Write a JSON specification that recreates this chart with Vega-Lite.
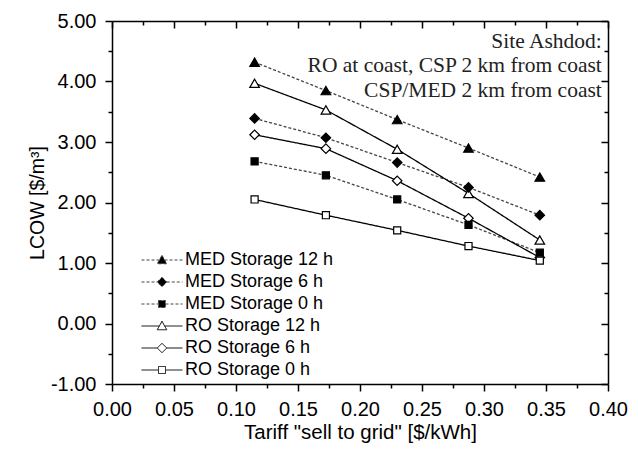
{
  "$schema": "https://vega.github.io/schema/vega-lite/v6.json",
  "width": 496,
  "height": 363,
  "autosize": "none",
  "padding": {"left": 112, "top": 21, "right": 30, "bottom": 71},
  "background": "white",
  "config": {
    "view": {"stroke": null},
    "font": "Liberation Sans",
    "axis": {
      "domainColor": "black",
      "domainWidth": 1.5,
      "tickColor": "black",
      "tickWidth": 1.5,
      "grid": false,
      "labelFont": "Liberation Sans",
      "labelFontSize": 20,
      "labelColor": "black",
      "titleFont": "Liberation Sans",
      "titleFontSize": 20.5,
      "titleFontWeight": "normal",
      "titleColor": "black"
    }
  },
  "datasets": {
    "series": [
      {"series": "MED Storage 12 h", "tariff": 0.115, "lcow": 4.32},
      {"series": "MED Storage 12 h", "tariff": 0.1725, "lcow": 3.85},
      {"series": "MED Storage 12 h", "tariff": 0.23, "lcow": 3.37},
      {"series": "MED Storage 12 h", "tariff": 0.2875, "lcow": 2.9},
      {"series": "MED Storage 12 h", "tariff": 0.345, "lcow": 2.42},
      {"series": "MED Storage 6 h", "tariff": 0.115, "lcow": 3.39},
      {"series": "MED Storage 6 h", "tariff": 0.1725, "lcow": 3.07},
      {"series": "MED Storage 6 h", "tariff": 0.23, "lcow": 2.66},
      {"series": "MED Storage 6 h", "tariff": 0.2875, "lcow": 2.25},
      {"series": "MED Storage 6 h", "tariff": 0.345, "lcow": 1.79},
      {"series": "MED Storage 0 h", "tariff": 0.115, "lcow": 2.68},
      {"series": "MED Storage 0 h", "tariff": 0.1725, "lcow": 2.45},
      {"series": "MED Storage 0 h", "tariff": 0.23, "lcow": 2.05},
      {"series": "MED Storage 0 h", "tariff": 0.2875, "lcow": 1.63},
      {"series": "MED Storage 0 h", "tariff": 0.345, "lcow": 1.17},
      {"series": "RO Storage 12 h", "tariff": 0.115, "lcow": 3.97},
      {"series": "RO Storage 12 h", "tariff": 0.1725, "lcow": 3.53},
      {"series": "RO Storage 12 h", "tariff": 0.23, "lcow": 2.88},
      {"series": "RO Storage 12 h", "tariff": 0.2875, "lcow": 2.15},
      {"series": "RO Storage 12 h", "tariff": 0.345, "lcow": 1.38},
      {"series": "RO Storage 6 h", "tariff": 0.115, "lcow": 3.12},
      {"series": "RO Storage 6 h", "tariff": 0.1725, "lcow": 2.89},
      {"series": "RO Storage 6 h", "tariff": 0.23, "lcow": 2.36},
      {"series": "RO Storage 6 h", "tariff": 0.2875, "lcow": 1.74},
      {"series": "RO Storage 6 h", "tariff": 0.345, "lcow": 1.09},
      {"series": "RO Storage 0 h", "tariff": 0.115, "lcow": 2.05},
      {"series": "RO Storage 0 h", "tariff": 0.1725, "lcow": 1.79},
      {"series": "RO Storage 0 h", "tariff": 0.23, "lcow": 1.54},
      {"series": "RO Storage 0 h", "tariff": 0.2875, "lcow": 1.28},
      {"series": "RO Storage 0 h", "tariff": 0.345, "lcow": 1.04}
    ],
    "notes": [
      {"tariff": 0.395, "lcow": 4.554, "note": "Site Ashdod:"},
      {"tariff": 0.395, "lcow": 4.162, "note": "RO at coast, CSP 2 km from coast"},
      {"tariff": 0.395, "lcow": 3.749, "note": "CSP/MED 2 km from coast"}
    ]
  },
  "resolve": {"axis": {"x": "independent", "y": "independent"}},
  "layer": [
    {
      "data": {"name": "series"},
      "mark": {"type": "line", "strokeWidth": 1.3},
      "encoding": {
        "x": {
          "field": "tariff", "type": "quantitative",
          "scale": {"domain": [0, 0.4], "nice": false, "zero": false},
          "axis": {
            "orient": "bottom",
            "title": "Tariff \"sell to grid\" [$/kWh]",
            "values": [0, 0.025, 0.05, 0.075, 0.1, 0.125, 0.15, 0.175, 0.2, 0.225, 0.25, 0.275, 0.3, 0.325, 0.35, 0.375, 0.4],
            "labelExpr": "abs(datum.value*20 - round(datum.value*20)) < 1e-6 ? format(datum.value, '.2f') : ''",
            "tickSize": {"condition": {"test": "abs(datum.value*20 - round(datum.value*20)) < 1e-6", "value": 7}, "value": 4},
            "labelPadding": 8,
            "labelFlush": false,
            "labelOverlap": false,
            "titlePadding": 3
          }
        },
        "y": {
          "field": "lcow", "type": "quantitative",
          "scale": {"domain": [-1, 5], "nice": false, "zero": false},
          "axis": {
            "orient": "left",
            "title": "LCOW [$/m³]",
            "titleFontSize": 19.5,
            "values": [-1, -0.5, 0, 0.5, 1, 1.5, 2, 2.5, 3, 3.5, 4, 4.5, 5],
            "labelExpr": "abs(datum.value - round(datum.value)) < 1e-6 ? replace(format(datum.value, '.2f'), '−', '-') : ''",
            "tickSize": {"condition": {"test": "abs(datum.value - round(datum.value)) < 1e-6", "value": 7}, "value": 4},
            "labelPadding": 9,
            "labelFlush": false,
            "labelOverlap": false,
            "titlePadding": 3
          }
        },
        "detail": {"field": "series"},
        "stroke": {
          "field": "series", "type": "nominal",
          "scale": {
            "domain": ["MED Storage 12 h", "MED Storage 6 h", "MED Storage 0 h", "RO Storage 12 h", "RO Storage 6 h", "RO Storage 0 h"],
            "range": ["#444444", "#444444", "#444444", "black", "black", "black"]
          },
          "legend": {
            "title": null,
            "orient": "none",
            "legendX": 41,
            "legendY": 230,
            "padding": 0,
            "symbolSize": 100,
            "symbolStrokeWidth": 1,
            "labelFont": "Liberation Sans",
            "labelFontSize": 18,
            "labelColor": "black",
            "labelOffset": 14,
            "rowPadding": 4,
            "labelLimit": 300,
            "encode": {
              "symbols": {
                "update": {
                  "shape": {"signal": "indexof(datum.value, '12 h') >= 0 ? 'M-4.1,0L-0.5,0M0.5,0L4.1,0M0,-0.95L0.95,0.75L-0.95,0.75Z' : indexof(datum.value, '6 h') >= 0 ? 'M-4.1,0L-0.95,0M0.95,0L4.1,0M0,-0.95L0.95,0L0,0.95L-0.95,0Z' : 'M-4.1,0L-0.7,0M0.7,0L4.1,0M-0.7,-0.7L0.7,-0.7L0.7,0.7L-0.7,0.7Z'"},
                  "strokeWidth": {"value": 1}
                }
              }
            }
          }
        },
        "strokeDash": {
          "field": "series", "type": "nominal", "legend": null,
          "scale": {
            "domain": ["MED Storage 12 h", "MED Storage 6 h", "MED Storage 0 h", "RO Storage 12 h", "RO Storage 6 h", "RO Storage 0 h"],
            "range": [[3, 2], [3, 2], [3, 2], [1, 0], [1, 0], [1, 0]]
          }
        }
      }
    },
    {
      "data": {"name": "series"},
      "transform": [{"filter": "indexof(datum.series, '12 h') >= 0"}],
      "mark": {"type": "point", "shape": "triangle-up", "filled": false, "stroke": "black", "strokeWidth": 1.2, "opacity": 1, "size": 92},
      "encoding": {
        "x": {
          "field": "tariff", "type": "quantitative",
          "axis": {
            "orient": "top", "title": null, "labels": false,
            "values": [0, 0.025, 0.05, 0.075, 0.1, 0.125, 0.15, 0.175, 0.2, 0.225, 0.25, 0.275, 0.3, 0.325, 0.35, 0.375, 0.4],
            "tickSize": {"condition": {"test": "abs(datum.value*20 - round(datum.value*20)) < 1e-6", "value": -7}, "value": -4}
          }
        },
        "y": {
          "field": "lcow", "type": "quantitative",
          "axis": {
            "orient": "right", "title": null, "labels": false,
            "values": [-1, -0.5, 0, 0.5, 1, 1.5, 2, 2.5, 3, 3.5, 4, 4.5, 5],
            "tickSize": {"condition": {"test": "abs(datum.value - round(datum.value)) < 1e-6", "value": -7}, "value": -4}
          }
        },
        "fill": {
          "field": "series", "type": "nominal", "legend": null,
          "scale": {
            "domain": ["MED Storage 12 h", "MED Storage 6 h", "MED Storage 0 h", "RO Storage 12 h", "RO Storage 6 h", "RO Storage 0 h"],
            "range": ["black", "black", "black", "white", "white", "white"]
          }
        }
      }
    },
    {
      "data": {"name": "series"},
      "transform": [{"filter": "indexof(datum.series, ' 6 h') >= 0"}],
      "mark": {"type": "point", "shape": "diamond", "filled": false, "stroke": "black", "strokeWidth": 1.2, "opacity": 1, "size": 90},
      "encoding": {
        "x": {"field": "tariff", "type": "quantitative", "axis": null},
        "y": {"field": "lcow", "type": "quantitative", "axis": null},
        "fill": {"field": "series", "type": "nominal", "legend": null}
      }
    },
    {
      "data": {"name": "series"},
      "transform": [{"filter": "indexof(datum.series, ' 0 h') >= 0"}],
      "mark": {"type": "point", "shape": "square", "filled": false, "stroke": "black", "strokeWidth": 1.2, "opacity": 1, "size": 50},
      "encoding": {
        "x": {"field": "tariff", "type": "quantitative", "axis": null},
        "y": {"field": "lcow", "type": "quantitative", "axis": null},
        "fill": {"field": "series", "type": "nominal", "legend": null}
      }
    },
    {
      "data": {"name": "notes"},
      "mark": {"type": "text", "align": "right", "baseline": "alphabetic", "font": "Liberation Serif", "fontSize": 21.5, "color": "#222222"},
      "encoding": {
        "x": {"field": "tariff", "type": "quantitative", "axis": null},
        "y": {"field": "lcow", "type": "quantitative", "axis": null},
        "text": {"field": "note"}
      }
    }
  ]
}
